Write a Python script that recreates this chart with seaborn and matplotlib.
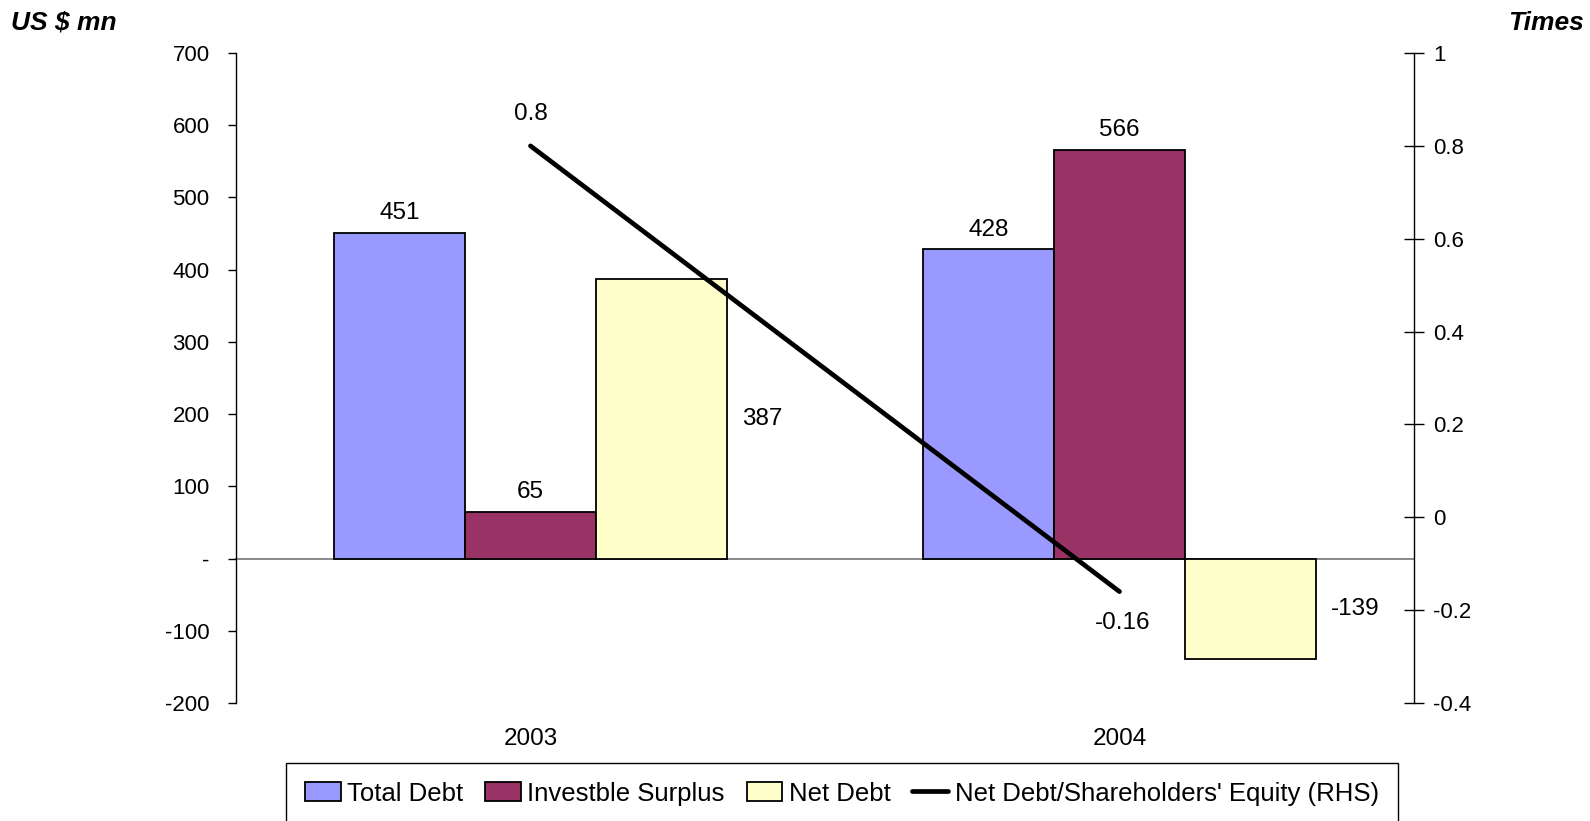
import matplotlib
matplotlib.use("Agg")
import matplotlib.pyplot as plt
import seaborn as sns
import pandas as pd
from matplotlib.patches import Patch
from matplotlib.lines import Line2D

years = ["2003", "2004"]
series = ["Total Debt", "Investble Surplus", "Net Debt"]
total_debt = [451, 428]
investble_surplus = [65, 566]
net_debt = [387, -139]
ratio_label = "Net Debt/Shareholders' Equity (RHS)"
net_debt_to_equity = [0.8, -0.16]

colors = {"Total Debt": "#9999FF", "Investble Surplus": "#993366", "Net Debt": "#FFFFCC"}

df = pd.DataFrame({
    "year": years * 3,
    "series": [s for s in series for _ in years],
    "value": total_debt + investble_surplus + net_debt,
})

sns.set_theme(style="white")
plt.rcParams["font.family"] = ["Liberation Sans", "DejaVu Sans"]
plt.rcParams["text.color"] = "black"
plt.rcParams["xtick.color"] = "black"
plt.rcParams["ytick.color"] = "black"
plt.rcParams["xtick.labelcolor"] = "black"
plt.rcParams["ytick.labelcolor"] = "black"

LABEL_SIZE = 17.5

fig = plt.figure(figsize=(15.9, 8.21), dpi=100)
ax = fig.add_axes([0.1484, 0.1437, 0.7409, 0.7917])

sns.barplot(data=df, x="year", y="value", hue="series", hue_order=series,
            palette=colors, width=0.667, saturation=1, edgecolor="black",
            linewidth=1.3, ax=ax, legend=False)

ax.set_ylim(-200, 700)
ax.set_xlim(-0.5, 1.5)
ax.set_yticks(range(-200, 701, 100))
ax.set_yticklabels([("-" if v == 0 else str(v)) for v in range(-200, 701, 100)])
ax.set_xlabel("")
ax.set_ylabel("")

for s in ["top", "right"]:
    ax.spines[s].set_visible(False)
ax.spines["left"].set_color("black")
ax.spines["left"].set_linewidth(1.0)
ax.spines["bottom"].set_position(("data", 0))
ax.spines["bottom"].set_color("#808080")
ax.spines["bottom"].set_linewidth(1.3)
ax.spines["bottom"].set_zorder(0.5)

ax.tick_params(axis="y", direction="out", length=6, width=1, color="black",
               labelsize=16, left=True, pad=13)
ax.set_xticks([-0.5, 0.5, 1.5], minor=True)
ax.tick_params(axis="x", which="minor", direction="out", length=8, width=1, color="#555555")
ax.tick_params(axis="x", which="major", length=0, labelsize=17.5, pad=122)

# value labels on the bars
for name, cont in zip(series, ax.containers):
    for bar, val in zip(cont, df[df.series == name]["value"]):
        cx = bar.get_x() + bar.get_width() / 2
        if name == "Net Debt":
            ax.text(bar.get_x() + bar.get_width() + 0.025, val / 2, f"{val}",
                    ha="left", va="center", fontsize=LABEL_SIZE)
        else:
            ax.text(cx, val + 12, f"{val}", ha="center", va="bottom", fontsize=LABEL_SIZE)

# ratio on the right-hand axis
ax2 = ax.twinx()
sns.lineplot(x=[0, 1], y=net_debt_to_equity, color="black", linewidth=3.4,
             ax=ax2, solid_capstyle="round")
ax2.set_ylim(-0.4, 1.0)
ax2.set_xlim(-0.5, 1.5)
ax2.set_yticks([-0.4, -0.2, 0, 0.2, 0.4, 0.6, 0.8, 1])
ax2.set_yticklabels(["-0.4", "-0.2", "0", "0.2", "0.4", "0.6", "0.8", "1"])
for s in ["top", "left", "bottom"]:
    ax2.spines[s].set_visible(False)
ax2.spines["right"].set_color("black")
ax2.spines["right"].set_linewidth(1.0)
ax2.tick_params(axis="y", direction="inout", length=14, width=1, color="black",
                labelsize=16, right=True, pad=7)
ax2.set_ylabel("")

ax2.text(0, net_debt_to_equity[0] + 0.045, f"{net_debt_to_equity[0]}",
         ha="center", va="bottom", fontsize=LABEL_SIZE)
ax2.text(1.005, net_debt_to_equity[1] - 0.045, f"{net_debt_to_equity[1]}",
         ha="center", va="top", fontsize=LABEL_SIZE)

fig.text(0.007, 0.972, "US $ mn", fontsize=19, fontweight="bold", fontstyle="italic",
         ha="left", va="center")
fig.text(0.996, 0.972, "Times", fontsize=19, fontweight="bold", fontstyle="italic",
         ha="right", va="center")

handles = [Patch(facecolor=colors[s], edgecolor="black", linewidth=1.3, label=s) for s in series]
handles.append(Line2D([0], [0], color="black", linewidth=3.4, label=ratio_label))
leg = fig.legend(handles=handles, loc="upper left", bbox_to_anchor=(0.1799, 0.0706),
                 ncol=4, fontsize=18.5, frameon=True, fancybox=False, edgecolor="black",
                 handlelength=1.4, handleheight=0.8, handletextpad=0.25,
                 columnspacing=0.85, borderpad=0.72, borderaxespad=0.0)
leg.get_frame().set_linewidth(1.0)
leg.get_frame().set_alpha(1.0)

fig.savefig("out.png", dpi=100)
